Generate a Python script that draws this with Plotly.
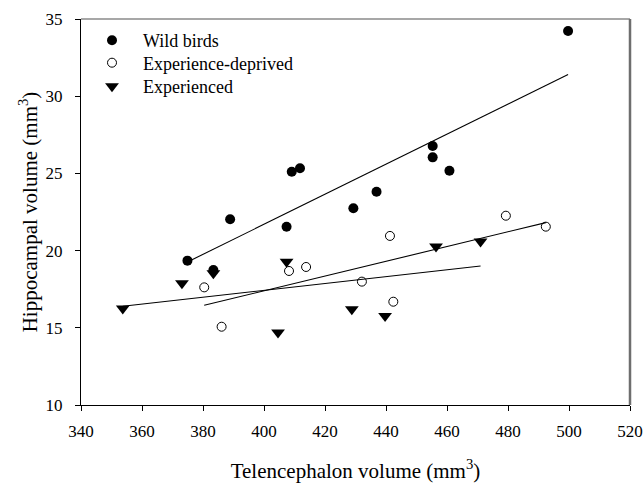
import numpy as np
import plotly.graph_objects as go

# Wild birds
wild_x = [499.7, 455.3, 455.3, 460.8, 436.9, 429.3, 409.1, 411.8, 388.9, 407.4, 374.9, 383.4]
wild_y = [34.22, 26.77, 26.04, 25.17, 23.81, 22.74, 25.11, 25.33, 22.03, 21.55, 19.35, 18.74]
# Experience-deprived
dep_x = [380.4, 386.1, 408.2, 413.8, 432.1, 441.3, 442.4, 479.3, 492.4]
dep_y = [17.62, 15.07, 18.68, 18.94, 17.99, 20.95, 16.69, 22.26, 21.55]
# Experienced
exp_x = [353.7, 373.1, 383.4, 407.4, 404.6, 428.8, 439.7, 456.4, 471.0]
exp_y = [16.25, 17.89, 18.53, 19.27, 14.69, 16.20, 15.77, 20.26, 20.59]

x_ticks = [340, 360, 380, 400, 420, 440, 460, 480, 500, 520]
y_ticks = [10, 15, 20, 25, 30, 35]

FONT = "Liberation Serif, Times New Roman, serif"

fig = go.Figure()

def fit_line(xs, ys):
    xs = np.array(xs); ys = np.array(ys)
    m, b = np.polyfit(xs, ys, 1)
    lx = np.array([xs.min(), xs.max()])
    return lx, m * lx + b

for xs, ys in [(wild_x, wild_y), (dep_x, dep_y), (exp_x, exp_y)]:
    lx, ly = fit_line(xs, ys)
    fig.add_trace(go.Scatter(x=lx, y=ly, mode="lines", line=dict(color="black", width=1.1),
                             showlegend=False, hoverinfo="skip"))

fig.add_trace(go.Scatter(x=wild_x, y=wild_y, mode="markers", name="Wild birds", legend="legend",
                         marker=dict(symbol="circle", size=10, color="black",
                                     line=dict(color="black", width=0))))
fig.add_trace(go.Scatter(x=dep_x, y=dep_y, mode="markers", name="Experience-deprived", legend="legend2",
                         marker=dict(symbol="circle-open", size=9, color="black",
                                     line=dict(color="black", width=1))))
fig.add_trace(go.Scatter(x=exp_x, y=exp_y, mode="markers", name="Experienced", legend="legend3",
                         marker=dict(symbol="triangle-down", size=12, color="black",
                                     line=dict(color="black", width=0))))

def leg(yc):
    return dict(x=0.0, y=(405 - yc) / 386, xanchor="left", yanchor="middle",
                bgcolor="rgba(0,0,0,0)", borderwidth=0,
                font=dict(family=FONT, size=18, color="black"), itemwidth=52)

fig.update_layout(
    width=644, height=487,
    margin=dict(l=81, r=14, t=19, b=82, autoexpand=False),
    paper_bgcolor="white", plot_bgcolor="white",
    font=dict(family=FONT, size=17, color="black"),
    showlegend=True,
    legend=leg(40.5), legend2=leg(63), legend3=leg(86.5),
    xaxis=dict(range=[340, 520], tickvals=x_ticks, ticks="outside", ticklen=5,
               tickwidth=1, tickcolor="black", showline=True, linecolor="black",
               linewidth=1, mirror=False, showgrid=False, zeroline=False,
               ticklabelstandoff=6, automargin=False,
               tickfont=dict(family=FONT, size=17),
               title=dict(text="Telencephalon volume (mm<sup>3</sup>)", standoff=22,
                          font=dict(family=FONT, size=21))),
    yaxis=dict(range=[10, 35], tickvals=y_ticks, ticks="outside", ticklen=5,
               tickwidth=1, tickcolor="black", showline=True, linecolor="black",
               linewidth=1, mirror=False, showgrid=False, zeroline=False,
               ticklabelstandoff=9, automargin=False,
               tickfont=dict(family=FONT, size=17),
               title=dict(text="Hippocampal volume (mm<sup>3</sup>)", standoff=2,
                          font=dict(family=FONT, size=21))),
    shapes=[
        dict(type="line", xref="paper", yref="paper", x0=0, x1=1, y0=1, y1=1,
             line=dict(color="#8a8a8a", width=1.5)),
        dict(type="line", xref="paper", yref="paper", x0=1, x1=1, y0=0, y1=1,
             line=dict(color="#6e6e6e", width=2.5)),
    ],
)

fig.write_html("out.html")
